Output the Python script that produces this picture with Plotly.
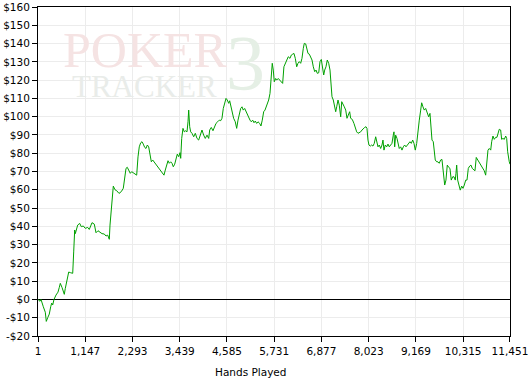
import plotly.graph_objects as go

# Hands played (x) and cumulative winnings in dollars (y)
hands = [1, 50, 74, 98, 130, 178, 202, 236, 275, 309, 333, 358, 389, 438, 486, 518, 542, 583, 615, 639,
         663, 697, 729, 746, 794, 843, 867, 891, 906, 930, 964, 1013, 1051, 1100, 1148, 1207, 1245, 1279, 1311, 1367,
         1408, 1456, 1505, 1553, 1609, 1651, 1692, 1731, 1748, 1772, 1789, 1813, 1828, 1869, 1910, 1966, 2022, 2070, 2111, 2136,
         2167, 2209, 2240, 2274, 2313, 2361, 2395, 2427, 2458, 2492, 2524, 2555, 2589, 2621, 2653, 2686, 2718, 2750, 2783, 2815,
         2880, 2944, 3009, 3057, 3089, 3123, 3155, 3186, 3220, 3252, 3283, 3317, 3349, 3380, 3414, 3446, 3463, 3487, 3518, 3550,
         3584, 3616, 3640, 3657, 3681, 3705, 3737, 3778, 3817, 3858, 3899, 3938, 3979, 4020, 4059, 4101, 4142, 4166, 4205, 4246,
         4278, 4319, 4360, 4399, 4433, 4464, 4496, 4530, 4562, 4593, 4627, 4651, 4683, 4714, 4747, 4787, 4821, 4853, 4884, 4918,
         4950, 4981, 5015, 5047, 5078, 5112, 5144, 5175, 5209, 5241, 5272, 5306, 5338, 5379, 5410, 5442, 5476, 5508, 5539, 5573,
         5597, 5629, 5653, 5684, 5709, 5733, 5767, 5791, 5830, 5871, 5912, 5936, 5967, 5999, 6033, 6072, 6114, 6146, 6180, 6211,
         6243, 6277, 6308, 6340, 6373, 6405, 6437, 6461, 6495, 6519, 6551, 6583, 6616, 6648, 6680, 6714, 6746, 6777, 6811, 6842,
         6874, 6908, 6932, 6956, 6987, 7019, 7053, 7085, 7109, 7133, 7165, 7189, 7223, 7247, 7279, 7310, 7344, 7369, 7400, 7432,
         7466, 7497, 7528, 7562, 7586, 7625, 7666, 7698, 7732, 7764, 7795, 7829, 7861, 7892, 7926, 7958, 7982, 8006, 8030, 8062,
         8096, 8127, 8159, 8193, 8217, 8249, 8280, 8314, 8346, 8370, 8394, 8426, 8460, 8491, 8523, 8557, 8588, 8620, 8637, 8654,
         8678, 8710, 8734, 8765, 8799, 8831, 8863, 8896, 8928, 8960, 8994, 9025, 9057, 9091, 9122, 9154, 9188, 9219, 9251, 9285,
         9309, 9340, 9372, 9406, 9437, 9462, 9479, 9510, 9534, 9559, 9590, 9614, 9638, 9673, 9704, 9735, 9769, 9801, 9833, 9867,
         9898, 9930, 9964, 9995, 10027, 10061, 10093, 10124, 10141, 10158, 10182, 10214, 10245, 10279, 10311, 10343, 10377, 10408, 10440, 10474,
         10505, 10536, 10570, 10602, 10633, 10667, 10699, 10730, 10764, 10796, 10827, 10861, 10893, 10917, 10949, 10983, 11007, 11038, 11070, 11104,
         11135, 11167, 11191, 11225, 11249, 11281, 11313, 11347, 11371, 11395, 11419, 11434, 11451]

winnings = [0, -1, 0, -2, -4, -7, -12, -10, -8, -4, -2, -3, 0, 2.4, 4, 6.6, 8.8, 6.6, 5, 2.8,
            6, 9.7, 11.5, 15, 14.6, 14.3, 26, 38, 36, 37.6, 40.7, 41.6, 39.8, 40.2, 38.9, 39.4, 38.3, 40.2, 42, 41.2,
            36.5, 37.6, 37, 36, 35.8, 34.7, 35.2, 32.9, 40.7, 46, 51, 55, 62, 60, 59.5, 58, 59, 60.8, 66.2, 71.7,
            72.3, 70.4, 69, 69.9, 69.3, 68.6, 68, 78, 83.5, 85.7, 86.3, 85, 83.2, 82.6, 84.5, 83.5, 79, 75.3, 76.3, 75.3,
            73.5, 71.7, 69.9, 68, 70.8, 73.5, 75.9, 74.5, 75.3, 74.5, 72.6, 74, 77.2, 79.5, 78.1, 80.3, 77.2, 88.1, 93.6, 91.7,
            92.3, 91.7, 97.2, 103.6, 94.5, 91.7, 90.9, 89, 90.9, 88.1, 87.2, 89.9, 92.7, 89.9, 88.1, 89.9, 88.1, 92.7, 94.1, 92.3,
            94.5, 96.3, 97.2, 98.1, 97.8, 99.1, 104.5, 108.2, 110, 109.1, 107.3, 108.7, 105.4, 102.7, 99.1, 97.2, 93.6, 98.1, 100.9, 104.5,
            105.4, 103.6, 104.5, 102.7, 100.9, 99.9, 98.1, 97.2, 98.1, 96.7, 97.6, 96.3, 97.2, 96.3, 94.9, 98.1, 102.7, 103.6, 105.4, 108.2,
            109.1, 112.7, 120, 129.2, 125.5, 119.1, 120.9, 120, 120.9, 120, 119.1, 118.2, 127.3, 129.2, 131, 132.8, 131.9, 133.7, 134.2, 134.6,
            131.9, 127.3, 129.2, 130.1, 129.2, 131.9, 137.4, 140.1, 139.8, 137.4, 134.6, 134.2, 131.9, 131, 127.3, 124.6, 125.5, 123.7, 124, 130.1,
            131.3, 127.3, 122.8, 125.5, 127.3, 131, 129.2, 125.5, 118.2, 110.9, 109.1, 105.4, 102.7, 105.4, 109.1, 106.3, 99.9, 108.2, 106.3, 105.4,
            103.6, 99.1, 100.9, 102.7, 99.1, 98.5, 96.3, 93.6, 91.7, 90.9, 91.2, 91.7, 92.7, 93.6, 94.1, 94.5, 93.6, 87.2, 84.5, 83.9,
            84.5, 83.9, 85.4, 89, 86.3, 83.5, 84.5, 82.6, 84.5, 87.2, 81.7, 84.5, 83.5, 85, 83.5, 84.5, 85.4, 89.9, 91.7, 83.5,
            89.9, 88.1, 85.4, 82.6, 83.5, 81.7, 83.5, 84.5, 83.5, 84.5, 85.4, 86.3, 85.4, 87.2, 85.4, 81.7, 85.4, 92.7, 98.1, 103.6,
            107.6, 105.4, 103.6, 104.5, 102.7, 101.8, 99.9, 101.8, 96.3, 87.2, 86.3, 81.7, 76.3, 75.3, 75.3, 74.5, 76.3, 76.6, 68, 62.6,
            65.3, 73.5, 72.3, 71.7, 65.3, 67.1, 67.1, 65.3, 69, 73.5, 65.3, 62.6, 59.8, 62, 60.8, 62.6, 65.3, 65.3, 71.7, 73,
            73.5, 71.7, 71.2, 70.4, 77.7, 76.3, 75.3, 74.5, 73, 71.7, 70.4, 68, 75.3, 81.7, 82.6, 81.7, 86.3, 89.4, 87.6, 88.7,
            88.7, 90.9, 93.1, 92.7, 87.6, 88.1, 87.6, 89.4, 88.1, 80.8, 76.3, 75.3, 74]

x_ticks = [1, 1147, 2293, 3439, 4585, 5731, 6877, 8023, 9169, 10315, 11451]
x_labels = ["1", "1,147", "2,293", "3,439", "4,585", "5,731", "6,877", "8,023", "9,169", "10,315", "11,451"]
y_ticks = list(range(-20, 161, 10))
y_labels = [("-$" + str(-v)) if v < 0 else ("$" + str(v)) for v in y_ticks]

FONT = "DejaVu Sans"
FS = 10.5

fig = go.Figure()
fig.add_trace(go.Scatter(x=hands, y=winnings, mode="lines",
                         line=dict(color="#00a000", width=1), hoverinfo="skip"))

fig.update_layout(
    width=529, height=381,
    margin=dict(l=38, r=19, t=7, b=45, autoexpand=False),
    paper_bgcolor="white", plot_bgcolor="white",
    showlegend=False,
    font=dict(family=FONT, size=FS, color="black"),
    xaxis=dict(range=[1, 11451.5], tickvals=x_ticks, ticktext=x_labels, automargin=False,
               showgrid=True, gridcolor="#ececec", gridwidth=1,
               showline=True, linecolor="black", linewidth=1, mirror=True,
               ticks="outside", ticklen=5, tickcolor="black", tickangle=0,
               zeroline=False, tickfont=dict(family=FONT, size=FS)),
    yaxis=dict(range=[-20, 160], tickvals=y_ticks, ticktext=y_labels, automargin=False,
               showgrid=True, gridcolor="#ececec", gridwidth=1,
               showline=True, linecolor="black", linewidth=1, mirror=True,
               ticks="outside", ticklen=5, tickcolor="black",
               zeroline=True, zerolinecolor="black", zerolinewidth=1,
               tickfont=dict(family=FONT, size=FS)),
    annotations=[
        dict(text="Hands Played", xref="paper", yref="paper", x=0.451, y=-0.109,
             xanchor="center", yanchor="middle", showarrow=False,
             font=dict(family=FONT, size=FS, color="black")),
        dict(text="3", xref="paper", yref="paper", x=0.44, y=0.83,
             xanchor="center", yanchor="middle", showarrow=False,
             font=dict(family="Liberation Serif", size=78, color="#e5efe5")),
        dict(text="POKER", xref="paper", yref="paper", x=0.227, y=0.87,
             xanchor="center", yanchor="middle", showarrow=False,
             font=dict(family="Liberation Serif", size=50, color="#f5e3e3")),
        dict(text="TRACKER", xref="paper", yref="paper", x=0.225, y=0.757,
             xanchor="center", yanchor="middle", showarrow=False,
             font=dict(family="Liberation Serif", size=31, color="#e9ece9")),
    ],
)

fig.write_html("out.html", config={"displayModeBar": False},
               post_script="document.body.style.margin='0';document.body.style.overflow='hidden';")
